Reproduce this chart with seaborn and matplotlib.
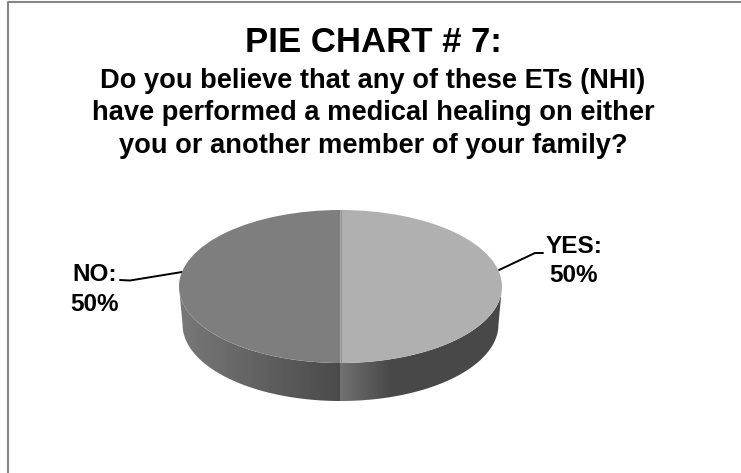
import numpy as np
import matplotlib
matplotlib.use("Agg")
import matplotlib.pyplot as plt
import seaborn as sns
from matplotlib.patches import Polygon
from matplotlib.lines import Line2D

sns.set_theme(style="white")
plt.rcParams['font.family'] = ['Liberation Sans', 'DejaVu Sans']

categories = ["YES", "NO"]
values = [50, 50]
top_colors = ["#b0b0b0", "#7e7e7e"]
title = "PIE CHART # 7:"
subtitle = "Do you believe that any of these ETs (NHI)\nhave performed a medical healing on either\nyou or another member of your family?"

W, H = 741, 473
cx, cy, rx, ry, depth = 340.5, 286.5, 161.5, 76.5, 38

fig = plt.figure(figsize=(W / 100, H / 100), dpi=100, facecolor="white")
ax = fig.add_axes([0, 0, 1, 1])

def set_limits():
    ax.set_xlim(-cx / rx, (W - cx) / rx)
    ax.set_ylim(-(H - cy) / ry, cy / ry)
    ax.set_aspect("auto")
    ax.axis("off")

# Side wall
t = np.linspace(np.pi, 2 * np.pi, 200)
shrink = 0.978
dz = depth / ry
upper = np.c_[np.cos(t), np.sin(t)]
lower = np.c_[shrink * np.cos(t), np.sin(t) - dz]
side = np.r_[upper, lower[::-1]]
xs = np.linspace(-1, 1, 400)
shade = np.where(xs < 0, 0.47 + (0.29 - 0.47) * (xs + 1),
                 np.maximum(0.44 + (0.285 - 0.44) * xs / 0.31, 0.285))
im = ax.imshow(shade[None, :], cmap="gray", vmin=0, vmax=1, aspect="auto",
               extent=(-1, 1, -1 - dz - 0.02, 0.1), zorder=1, interpolation="nearest")
clip = Polygon(side, closed=True, transform=ax.transData, facecolor="none", edgecolor="none")
ax.add_patch(clip)
im.set_clip_path(clip)

# Top face
wedges, _ = ax.pie(values, colors=top_colors, startangle=90, counterclock=False,
                   radius=1, center=(0, 0), wedgeprops=dict(linewidth=0, zorder=3))
set_limits()
ax.plot([0, 0], [-1, 1], color="#939393", lw=0.7, zorder=4)

def px(x, y):
    return (x - cx) / rx, (cy - y) / ry

ax.add_line(Line2D(*zip(px(120, 280), px(130, 280.5), px(182, 272)), color="black", lw=1.4, zorder=2))
ax.add_line(Line2D(*zip(px(499, 270), px(535, 253), px(543, 253)), color="black", lw=1.4, zorder=2))

ax.text(*px(574, 261), categories[0] + ":\n50%", ha="center", va="center",
        fontsize=17.5, fontweight="bold", color="black", linespacing=1.34)
ax.text(*px(94.5, 289.5), categories[1] + ":\n50%", ha="center", va="center",
        fontsize=17.5, fontweight="bold", color="black", linespacing=1.34)

ax.text(*px(373, 43), title, ha="center", va="center", fontsize=25, fontweight="bold", color="black")
ax.text(*px(373, 113.5), subtitle, ha="center", va="center", fontsize=19.6, fontweight="bold",
        color="black", linespacing=1.336)

# Frame
ax.add_line(Line2D(*zip(px(8, H), px(8, 2), px(W, 2)), color="#868686", lw=1.5, zorder=5))

fig.savefig("out.png", dpi=100, facecolor="white")
